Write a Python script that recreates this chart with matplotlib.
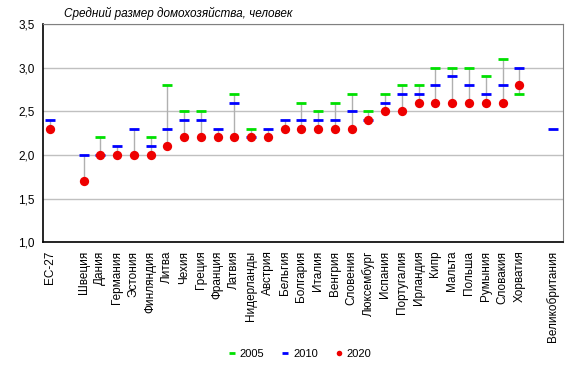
import numpy as np
import matplotlib.pyplot as plt
from matplotlib.lines import Line2D

plt.rcParams['font.family'] = ['Liberation Sans', 'DejaVu Sans']

countries = ["ЕС-27", "", "Швеция", "Дания", "Германия", "Эстония", "Финляндия", "Литва",
             "Чехия", "Греция", "Франция", "Латвия", "Нидерланды", "Австрия", "Бельгия",
             "Болгария", "Италия", "Венгрия", "Словения", "Люксембург", "Испания",
             "Португалия", "Ирландия", "Кипр", "Мальта", "Польша", "Румыния", "Словакия",
             "Хорватия", "", "Великобритания"]
n = np.nan
y2005 = [n, n, n, 2.2, n, n, 2.2, 2.8, 2.5, 2.5, n, 2.7, 2.3, n, n, 2.6, 2.5, 2.6, 2.7,
         2.5, 2.7, 2.8, 2.8, 3.0, 3.0, 3.0, 2.9, 3.1, 2.7, n, n]
y2010 = [2.4, n, 2.0, 2.0, 2.1, 2.3, 2.1, 2.3, 2.4, 2.4, 2.3, 2.6, 2.2, 2.3, 2.4, 2.4, 2.4,
         2.4, 2.5, 2.4, 2.6, 2.7, 2.7, 2.8, 2.9, 2.8, 2.7, 2.8, 3.0, n, 2.3]
y2020 = [2.3, n, 1.7, 2.0, 2.0, 2.0, 2.0, 2.1, 2.2, 2.2, 2.2, 2.2, 2.2, 2.2, 2.3, 2.3, 2.3,
         2.3, 2.3, 2.4, 2.5, 2.5, 2.6, 2.6, 2.6, 2.6, 2.6, 2.6, 2.8, n, n]

x = np.arange(len(countries))
a05, a10, a20 = np.array(y2005), np.array(y2010), np.array(y2020)
allv = np.vstack([a05, a10, a20])

fig = plt.figure(figsize=[5.77, 3.72], dpi=100)
ax = fig.add_axes([0.0745, 0.349, 0.901, 0.5865])

lo = np.nanmin(np.where(np.isnan(allv), np.inf, allv), axis=0)
hi = np.nanmax(np.where(np.isnan(allv), -np.inf, allv), axis=0)
for i in range(len(x)):
    if np.isfinite(lo[i]) and hi[i] > lo[i]:
        ax.plot([x[i], x[i]], [lo[i], hi[i]], color='#b0b0b0', lw=1, zorder=2)

ax.plot(x, a05, ls='none', marker='_', ms=7, mew=2, color='#00e000', zorder=3)
ax.plot(x, a10, ls='none', marker='_', ms=7, mew=2, color='#0000ff', zorder=4)
ax.plot(x, a20, ls='none', marker='o', ms=6.7, mew=0, color='#ee0000', zorder=5)

ax.set_ylim(1.0, 3.5)
ax.set_yticks([1.0, 1.5, 2.0, 2.5, 3.0, 3.5])
ax.set_yticklabels(["1,0", "1,5", "2,0", "2,5", "3,0", "3,5"], fontsize=8.5)
ax.set_xlim(-0.42, 30.6)
ax.set_xticks(x)
ax.set_xticklabels(countries, rotation=90, fontsize=8.5)
ax.tick_params(length=0, pad=6)
ax.grid(axis='y', color='#c0c0c0', lw=1)
ax.set_axisbelow(True)
for s in ['top', 'right']:
    ax.spines[s].set_color('#808080')
for s in ['left', 'bottom']:
    ax.spines[s].set_color('black')
    ax.spines[s].set_linewidth(1.2)

ax.set_title("Средний размер домохозяйства, человек", fontsize=8.5, style='italic',
             loc='left', x=0.04, pad=5)

handles = [Line2D([], [], ls='none', marker='_', ms=5, mew=2, color='#00e000'),
           Line2D([], [], ls='none', marker='_', ms=5, mew=2, color='#0000ff'),
           Line2D([], [], ls='none', marker='o', ms=4, mew=0, color='#ee0000')]
fig.legend(handles, ["2005", "2010", "2020"], loc='center', bbox_to_anchor=(0.52, 0.048),
           ncol=3, frameon=False, fontsize=8, handlelength=0.6, handletextpad=0.4,
           columnspacing=1.6)

fig.savefig("out.png", dpi=100)
